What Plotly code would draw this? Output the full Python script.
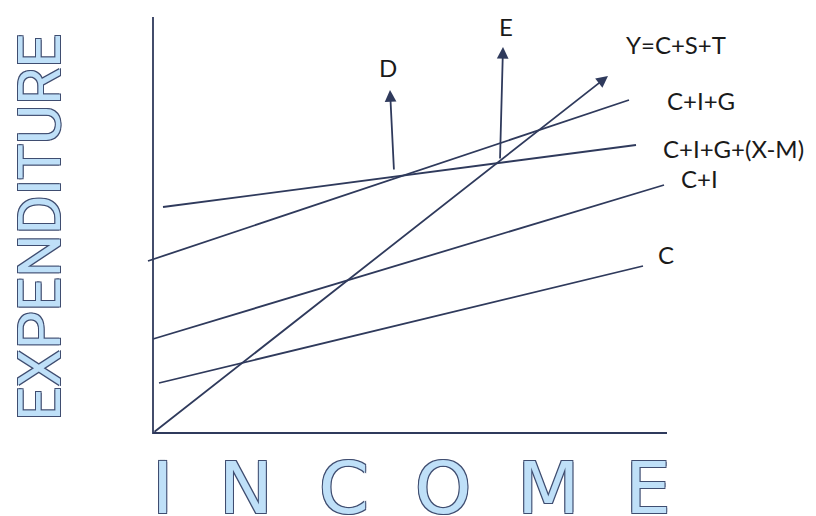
import plotly.graph_objects as go

# income / expenditure lines (arbitrary units, origin at the axis corner)
c_income = [6, 490]
c_exp = [50, 167]
ci_income = [0, 511]
ci_exp = [94, 248]
cig_income = [-5, 476]
cig_exp = [172, 333]
cigxm_income = [10, 483]
cigxm_exp = [226, 288]

# 45 degree line and the two arrows (tail -> head)
y_line_income = [0, 455]
y_line_exp = [0, 357]
d_income = [241, 237]
d_exp = [262, 343]
e_income = [347, 350]
e_exp = [273, 386]

axis_income = [0, 0, 514]
axis_exp = [416, 0, 0]

line_names = ["Y=C+S+T", "C+I+G", "C+I+G+(X-M)", "C+I", "C", "D", "E"]
label_x = [471, 512, 508, 526, 503, 235, 353]
label_y = [389, 333, 285, 255, 179, 366, 407]

navy = "#2f3a5c"
fig = go.Figure()

fig.add_trace(go.Scatter(x=axis_income, y=axis_exp, mode="lines",
                         line=dict(color=navy, width=1.8), showlegend=False, hoverinfo="skip"))
for xs, ys in [(c_income, c_exp), (ci_income, ci_exp), (cig_income, cig_exp), (cigxm_income, cigxm_exp)]:
    fig.add_trace(go.Scatter(x=xs, y=ys, mode="lines",
                             line=dict(color=navy, width=1.8), showlegend=False, hoverinfo="skip"))

# arrows
for xs, ys in [(y_line_income, y_line_exp), (d_income, d_exp), (e_income, e_exp)]:
    fig.add_annotation(x=xs[1], y=ys[1], ax=xs[0], ay=ys[0], axref="x", ayref="y",
                       xref="x", yref="y", text="", showarrow=True,
                       arrowhead=2, arrowsize=1.3, arrowwidth=1.8, arrowcolor=navy)

for i, name in enumerate(line_names):
    anchor = "center" if name in ("D", "E") else "left"
    fig.add_annotation(x=label_x[i], y=label_y[i], text=name, showarrow=False,
                       xanchor=anchor, yanchor="middle",
                       font=dict(family="Lato", size=24, color="#1a1a1a"))

outline = "1px 1px 0 #3f4d70, -1px -1px 0 #3f4d70, 1px -1px 0 #3f4d70, -1px 1px 0 #3f4d70"
fig.add_annotation(x=258, y=-55, text="I\u2007N\u2007C\u2007O\u2007M\u2007E",
                   showarrow=False, xanchor="center", yanchor="middle",
                   font=dict(family="DejaVu Sans", size=72,
                             color="#bfe0f8", shadow=outline))
fig.add_annotation(x=-114, y=205, text="EXPENDITURE", textangle=-90,
                   showarrow=False, xanchor="center", yanchor="middle",
                   font=dict(family="Roboto", size=60, color="#bfe0f8", shadow=outline))

# the page body adds an 8px margin, so the figure is 808x508 and fills it with the axes
fig.update_xaxes(range=[-145, 663], visible=False)
fig.update_yaxes(range=[-83, 425], visible=False)
fig.update_layout(width=808, height=508, margin=dict(l=0, r=0, t=0, b=0),
                  plot_bgcolor="white", paper_bgcolor="white")

fig.write_html("out.html")
